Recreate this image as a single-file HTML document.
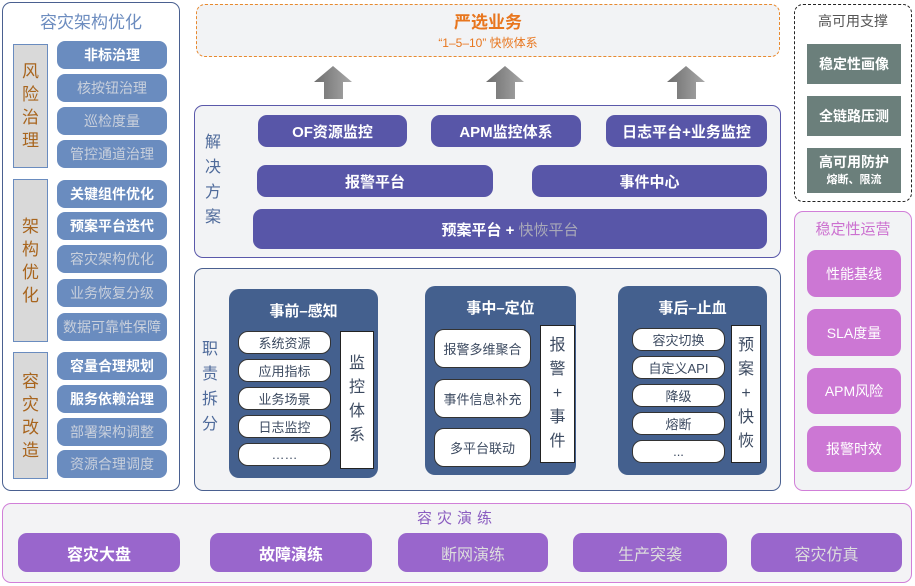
<!DOCTYPE html>
<html><head><meta charset="utf-8"><style>
*{box-sizing:border-box;margin:0;padding:0}
body{width:915px;height:586px;background:#fff;position:relative;overflow:hidden;font-family:"Liberation Sans","Noto Sans CJK SC",sans-serif}
div{position:absolute}
.c{display:flex;align-items:center;justify-content:center;text-align:center}
.pill{left:57px;width:110px;background:#6a8cbf;border-radius:8px;font-size:14px;color:#c9d0dc;height:28px}
.pw{color:#fff;font-weight:bold}
.grp{left:13px;width:35px;background:#d9d9d9;border:1.5px solid #6a8cbf;color:#a8651e;font-size:17px;line-height:23px}
.sol{background:#5856a8;border-radius:9px;color:#fff;font-size:15px;font-weight:bold}
.pan{background:#44608e;border-radius:10px}
.pt{color:#fff;font-size:15px;font-weight:bold;width:100%;text-align:center}
.wp{background:#fff;border:1px solid #333;border-radius:10px;font-size:13px;color:#3c4a60}
.side{background:#fff;border:1px solid #222;font-size:16px;color:#3c4a60;line-height:24px}
.gb{left:807px;width:94px;background:#6b7f7b;color:#fff;font-size:14px;font-weight:bold}
.pb{left:807px;width:94px;background:#cc77d4;color:#fff;font-size:14px;border-radius:9px}
.bb{top:533px;height:39px;background:#9966cc;border-radius:9px;font-size:16px;color:#fff;font-weight:bold}
.vl{color:#4e6a9a;font-size:16px;line-height:25px;width:20px;text-align:center}
</style></head><body>
<!-- left panel -->
<div style="left:2px;top:2px;width:178px;height:489px;border:1.5px solid #4a6090;border-radius:9px"></div>
<div class="c" style="left:2px;top:9px;width:178px;height:22px;color:#6c8cbf;font-size:17px">容灾架构优化</div>
<div class="grp c" style="top:44px;height:124px">风<br>险<br>治<br>理</div>
<div class="grp c" style="top:179px;height:163px">架<br>构<br>优<br>化</div>
<div class="grp c" style="top:352px;height:127px">容<br>灾<br>改<br>造</div>
<div class="pill c pw" style="top:41px">非标治理</div>
<div class="pill c" style="top:74px">核按钮治理</div>
<div class="pill c" style="top:107px">巡检度量</div>
<div class="pill c" style="top:140px">管控通道治理</div>
<div class="pill c pw" style="top:180px">关键组件优化</div>
<div class="pill c pw" style="top:212px">预案平台迭代</div>
<div class="pill c" style="top:245px">容灾架构优化</div>
<div class="pill c" style="top:279px">业务恢复分级</div>
<div class="pill c" style="top:313px">数据可靠性保障</div>
<div class="pill c pw" style="top:352px">容量合理规划</div>
<div class="pill c pw" style="top:385px">服务依赖治理</div>
<div class="pill c" style="top:418px">部署架构调整</div>
<div class="pill c" style="top:450px">资源合理调度</div>

<!-- top -->
<div style="left:196px;top:4px;width:584px;height:53px;border:1.5px dashed #e8892e;border-radius:9px;background:#f2f3f5"></div>
<div class="c" style="left:196px;top:9px;width:584px;height:22px;color:#e8761e;font-size:17px;font-weight:bold">严选业务</div>
<div class="c" style="left:196px;top:33px;width:584px;height:18px;color:#e8761e;font-size:12px">“1–5–10” 快恢体系</div>
<svg style="position:absolute;left:0;top:0" width="915" height="586">
<defs><linearGradient id="g" x1="0" x2="1"><stop offset="0" stop-color="#6e6e6e"/><stop offset="1" stop-color="#a8a8a8"/></linearGradient>
<linearGradient id="g2" x1="0" y1="0" x2="0" y2="1"><stop offset="0" stop-color="#a0a0a0"/><stop offset="1" stop-color="#777"/></linearGradient></defs>
<g fill="url(#g)">
<polygon points="314,82 333,66 352,82 343,82 343,99 324,99 324,82"/>
<polygon points="486,82 505,66 524,82 515,82 515,99 496,99 496,82"/>
<polygon points="667,82 686,66 705,82 696,82 696,99 677,99 677,82"/>
</g>
<g fill="url(#g2)">
<polygon points="385,387 402,387 402,378 418,395 402,412 402,403 385,403"/>
<polygon points="579,387 596,387 596,378 613,395 596,412 596,403 579,403"/>
</g>
</svg>

<!-- solution -->
<div style="left:194px;top:105px;width:587px;height:153px;border:1.5px solid #5a58aa;border-radius:9px;background:#f2f3f5"></div>
<div class="vl" style="left:203px;top:130px">解<br>决<br>方<br>案</div>
<div class="sol c" style="left:258px;top:115px;width:149px;height:32px">OF资源监控</div>
<div class="sol c" style="left:431px;top:115px;width:150px;height:32px">APM监控体系</div>
<div class="sol c" style="left:606px;top:115px;width:161px;height:32px">日志平台+业务监控</div>
<div class="sol c" style="left:257px;top:165px;width:236px;height:32px">报警平台</div>
<div class="sol c" style="left:532px;top:165px;width:235px;height:32px">事件中心</div>
<div class="sol c" style="left:253px;top:209px;width:514px;height:40px">预案平台 +&nbsp;<span style="color:#a9a9b8;font-weight:normal">快恢平台</span></div>

<!-- responsibilities -->
<div style="left:194px;top:268px;width:587px;height:223px;border:1.5px solid #4a6090;border-radius:9px;background:#f2f3f5"></div>
<div class="vl" style="left:200px;top:337px">职<br>责<br>拆<br>分</div>
<div class="pan" style="left:229px;top:289px;width:149px;height:189px"><div class="pt" style="top:11px">事前–感知</div></div>
<div class="wp c" style="left:238px;top:331px;width:93px;height:23px">系统资源</div>
<div class="wp c" style="left:238px;top:359px;width:93px;height:23px">应用指标</div>
<div class="wp c" style="left:238px;top:387px;width:93px;height:23px">业务场景</div>
<div class="wp c" style="left:238px;top:415px;width:93px;height:23px">日志监控</div>
<div class="wp c" style="left:238px;top:443px;width:93px;height:23px">……</div>
<div class="side c" style="left:340px;top:331px;width:34px;height:138px">监<br>控<br>体<br>系</div>

<div class="pan" style="left:425px;top:286px;width:151px;height:189px"><div class="pt" style="top:11px">事中–定位</div></div>
<div class="wp c" style="left:434px;top:329px;width:97px;height:39px">报警多维聚合</div>
<div class="wp c" style="left:434px;top:379px;width:97px;height:39px">事件信息补充</div>
<div class="wp c" style="left:434px;top:428px;width:97px;height:39px">多平台联动</div>
<div class="side c" style="left:540px;top:325px;width:35px;height:138px">报<br>警<br>+<br>事<br>件</div>

<div class="pan" style="left:618px;top:286px;width:149px;height:189px"><div class="pt" style="top:11px">事后–止血</div></div>
<div class="wp c" style="left:632px;top:328px;width:93px;height:23px">容灾切换</div>
<div class="wp c" style="left:632px;top:356px;width:93px;height:23px">自定义API</div>
<div class="wp c" style="left:632px;top:384px;width:93px;height:23px">降级</div>
<div class="wp c" style="left:632px;top:412px;width:93px;height:23px">熔断</div>
<div class="wp c" style="left:632px;top:440px;width:93px;height:23px">...</div>
<div class="side c" style="left:731px;top:325px;width:30px;height:138px">预<br>案<br>+<br>快<br>恢</div>

<!-- right -->
<div style="left:794px;top:4px;width:118px;height:198px;border:1.5px dashed #222;border-radius:9px"></div>
<div class="c" style="left:794px;top:11px;width:118px;height:20px;color:#555;font-size:14px">高可用支撑</div>
<div class="gb c" style="top:44px;height:40px">稳定性画像</div>
<div class="gb c" style="top:96px;height:40px">全链路压测</div>
<div class="gb c" style="top:148px;height:45px;flex-direction:column;line-height:18px">高可用防护<span style="font-size:11px">熔断、限流</span></div>

<div style="left:794px;top:211px;width:118px;height:280px;border:1.5px solid #d17fd8;border-radius:9px;background:#f2f3f5"></div>
<div class="c" style="left:794px;top:218px;width:118px;height:20px;color:#cc70d0;font-size:15px">稳定性运营</div>
<div class="pb c" style="top:250px;height:47px">性能基线</div>
<div class="pb c" style="top:309px;height:47px">SLA度量</div>
<div class="pb c" style="top:368px;height:46px">APM风险</div>
<div class="pb c" style="top:426px;height:46px">报警时效</div>

<!-- bottom -->
<div style="left:2px;top:503px;width:910px;height:80px;border:1.5px solid #d17fd8;border-radius:9px;background:#f3f3f5"></div>
<div class="c" style="left:2px;top:507px;width:910px;height:20px;color:#8a5cc0;font-size:15px;letter-spacing:5px">容灾演练</div>
<div class="bb c" style="left:18px;width:162px">容灾大盘</div>
<div class="bb c" style="left:210px;width:162px">故障演练</div>
<div class="bb c" style="left:398px;width:150px;color:#ddd;font-weight:normal">断网演练</div>
<div class="bb c" style="left:573px;width:154px;color:#ddd;font-weight:normal">生产突袭</div>
<div class="bb c" style="left:751px;width:151px;color:#ddd;font-weight:normal">容灾仿真</div>
</body></html>
